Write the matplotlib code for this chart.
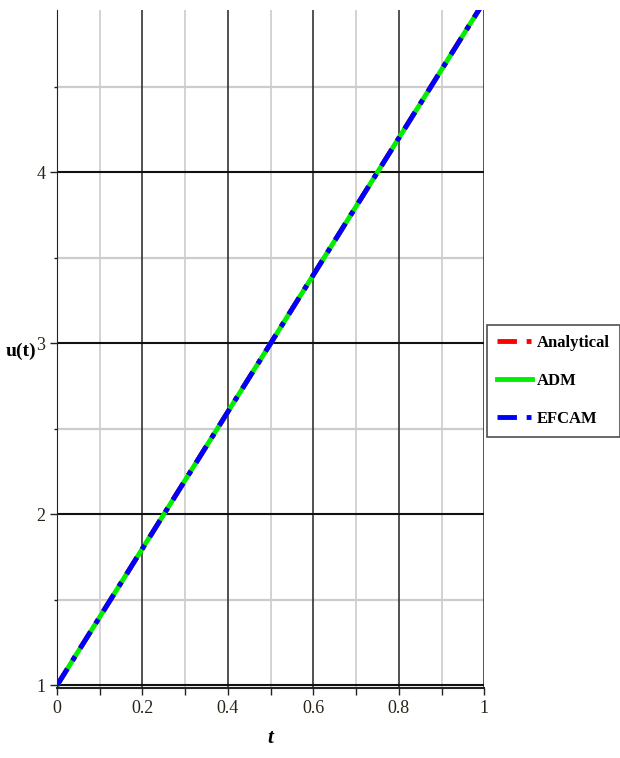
import matplotlib.pyplot as plt
import numpy as np

# values
t = [0.0, 0.1, 0.2, 0.3, 0.4, 0.5, 0.6, 0.7, 0.8, 0.9, 1.0]
u_exact = [1.0, 1.4, 1.8, 2.2, 2.6, 3.0, 3.4, 3.8, 4.2, 4.6, 5.0]
u_adm = [1.0, 1.4, 1.8, 2.2, 2.6, 3.0, 3.4, 3.8, 4.2, 4.6, 5.0]
u_efcam = [1.0, 1.4, 1.8, 2.2, 2.6, 3.0, 3.4, 3.8, 4.2, 4.6, 5.0]

x_ticks = [0, 0.2, 0.4, 0.6, 0.8, 1]
x_minor = [0.1, 0.3, 0.5, 0.7, 0.9]
y_ticks = [1, 2, 3, 4]
y_minor = [1.5, 2.5, 3.5, 4.5]

serif = ["Liberation Serif", "DejaVu Serif"]

fig = plt.figure(figsize=(6.2, 7.58), dpi=100)
ax = fig.add_axes([0.092, 0.0925, 0.689, 0.8945])

# grid, drawn by hand in maple style
for x in x_minor:
    ax.axvline(x, color="#cccccc", lw=1.2, zorder=0)
for y in y_minor:
    ax.axhline(y, color="#cccccc", lw=1.6, zorder=0)
for x in x_ticks:
    ax.axvline(x, color="#333333", lw=1.2, zorder=1)
for y in y_ticks:
    ax.axhline(y, color="#111111", lw=1.5, zorder=1)

dashdot = (0, (4, 2, 1, 2))
ax.plot(t, u_exact, color="red", lw=3.5, ls=dashdot, label="Analytical", zorder=3)
ax.plot(t, u_adm, color="#00ee00", lw=3.5, ls="-", label="ADM", zorder=2)
ax.plot(t, u_efcam, color="blue", lw=3.5, ls=dashdot, label="EFCAM", zorder=4)

ax.set_xlim(0, 1)
ax.set_ylim(0.985, 4.95)

ax.set_xticks(x_ticks)
ax.set_xticklabels(["0", "0.2", "0.4", "0.6", "0.8", "1"])
ax.set_xticks(x_minor, minor=True)
ax.set_yticks(y_ticks)
ax.set_yticklabels(["1", "2", "3", "4"])
ax.set_yticks(y_minor, minor=True)
ax.tick_params(axis="both", which="both", direction="out", color="#222222",
               labelsize=13, length=5, width=1)
ax.tick_params(axis="y", which="minor", length=2)
for lab in ax.get_xticklabels() + ax.get_yticklabels():
    lab.set_family(serif)
    lab.set_color("#2a2418")

for side in ["top", "right"]:
    ax.spines[side].set_visible(False)
ax.spines["left"].set_color("#222222")
ax.spines["bottom"].set_color("#222222")
ax.spines["bottom"].set_linewidth(1.5)

ax.set_xlabel("t", family=serif, fontsize=15, fontweight="bold", fontstyle="italic", labelpad=8)
ax.set_ylabel("u(t)", family=serif, fontsize=14, fontweight="bold", rotation=0,
              va="center", ha="center")
ax.yaxis.set_label_coords(-0.085, 0.496)

leg = fig.legend(loc="upper left", bbox_to_anchor=(0.785, 0.571), frameon=True,
                 fancybox=False, edgecolor="#222222", handlelength=2.1,
                 borderpad=0.6, labelspacing=1.3, handletextpad=0.3,
                 borderaxespad=0.0,
                 prop={"family": serif, "weight": "bold", "size": 12})
leg.get_frame().set_linewidth(1.2)

fig.savefig("out.png", dpi=100)
